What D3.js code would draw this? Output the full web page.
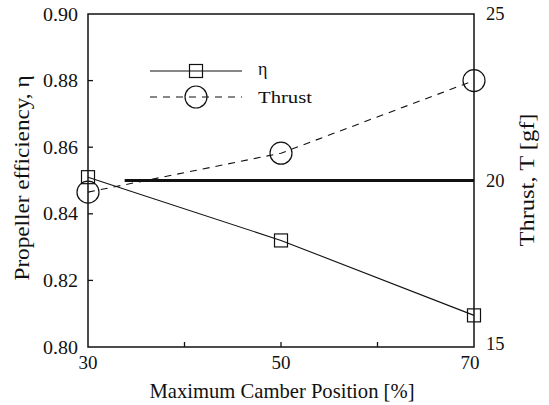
<!DOCTYPE html>
<html><head><meta charset="utf-8">
<script src="https://cdn.jsdelivr.net/npm/d3@7"></script>
<style>body{margin:0;background:#fff}svg{display:block}</style>
</head><body><svg id="c" width="549" height="405" font-family="Liberation Serif, Times New Roman, DejaVu Serif, serif"></svg>
<script>
const camber = [30, 50, 70];
const eta = [0.851, 0.832, 0.8095];
const thrust = [19.65, 20.82, 23.0];
const refThrust = 20;
const xTicks = [30, 40, 50, 60, 70];
const xTickLabels = [30, 50, 70];
const etaTicks = [0.80, 0.82, 0.84, 0.86, 0.88, 0.90];
const thrustTicks = [15, 20, 25];

const svg = d3.select("#c");
const L = 88, R = 474, T = 14, B = 347;
const x = d3.scaleLinear().domain([30, 70]).range([L, R]);
const yL = d3.scaleLinear().domain([0.80, 0.90]).range([B, T]);
const yR = d3.scaleLinear().domain([15, 25]).range([B, T]);
const ink = "#111";

svg.append("g").selectAll("line").data(xTicks.slice(1, -1)).join("line")
  .attr("x1", d => x(d)).attr("x2", d => x(d)).attr("y1", B).attr("y2", B - 5)
  .attr("stroke", ink).attr("stroke-width", 1.3);
svg.append("g").selectAll("line").data(etaTicks.slice(1, -1)).join("line")
  .attr("x1", L).attr("x2", L + 5).attr("y1", d => yL(d)).attr("y2", d => yL(d))
  .attr("stroke", ink).attr("stroke-width", 1.3);
svg.append("g").selectAll("line").data(thrustTicks.slice(1, -1)).join("line")
  .attr("x1", R).attr("x2", R - 5).attr("y1", d => yR(d)).attr("y2", d => yR(d))
  .attr("stroke", ink).attr("stroke-width", 1.3);

svg.append("rect").attr("x", L).attr("y", T).attr("width", R - L).attr("height", B - T)
  .attr("fill", "none").attr("stroke", ink).attr("stroke-width", 1.5);

svg.append("g").selectAll("text").data(etaTicks).join("text")
  .attr("x", L - 10).attr("y", d => yL(d)).attr("dy", "0.35em").attr("text-anchor", "end")
  .attr("font-size", 19).attr("textLength", 35).attr("lengthAdjust", "spacingAndGlyphs")
  .attr("fill", ink).text(d => d.toFixed(2));
svg.append("g").selectAll("text").data(xTickLabels).join("text")
  .attr("x", d => x(d) - (d === 70 ? 4 : 0)).attr("y", B + 22).attr("text-anchor", "middle")
  .attr("font-size", 19).attr("fill", ink).text(d => d);
svg.append("g").selectAll("text").data(thrustTicks).join("text")
  .attr("x", R + 12).attr("y", d => yR(d) - (d === 15 ? 3 : 0)).attr("dy", "0.35em").attr("text-anchor", "start")
  .attr("font-size", 18.5).attr("fill", ink).text(d => d);

svg.append("text").attr("x", 282).attr("y", 398).attr("text-anchor", "middle")
  .attr("font-size", 21).attr("textLength", 265).attr("lengthAdjust", "spacingAndGlyphs")
  .attr("fill", ink).text("Maximum Camber Position [%]");
svg.append("text").attr("transform", `translate(29,178) rotate(-90)`).attr("text-anchor", "middle")
  .attr("font-size", 21).attr("textLength", 205).attr("lengthAdjust", "spacingAndGlyphs")
  .attr("fill", ink).text("Propeller efficiency, η");
svg.append("text").attr("transform", `translate(534,180) rotate(-90)`).attr("text-anchor", "middle")
  .attr("font-size", 21).attr("textLength", 133).attr("lengthAdjust", "spacingAndGlyphs")
  .attr("fill", ink).text("Thrust, T [gf]");

svg.append("line").attr("x1", x(33.8)).attr("x2", R).attr("y1", yR(refThrust)).attr("y2", yR(refThrust))
  .attr("stroke", ink).attr("stroke-width", 3.2);

const etaPts = camber.map((c, i) => [x(c), yL(eta[i])]);
svg.append("path").attr("d", d3.line()(etaPts)).attr("fill", "none").attr("stroke", ink).attr("stroke-width", 1.1);
const sq = 13;
svg.append("g").selectAll("rect").data(etaPts).join("rect")
  .attr("x", d => d[0] - sq / 2).attr("y", d => d[1] - sq / 2).attr("width", sq).attr("height", sq)
  .attr("fill", "none").attr("stroke", ink).attr("stroke-width", 1.2);

const thPts = camber.map((c, i) => [x(c), yR(thrust[i])]);
svg.append("path").attr("d", d3.line()(thPts)).attr("fill", "none").attr("stroke", ink)
  .attr("stroke-width", 1.1).attr("stroke-dasharray", "7,6");
svg.append("g").selectAll("circle").data(thPts).join("circle")
  .attr("cx", d => d[0]).attr("cy", d => d[1]).attr("r", 11)
  .attr("fill", "none").attr("stroke", ink).attr("stroke-width", 1.2);

const lg = svg.append("g");
lg.append("line").attr("x1", 150).attr("x2", 242).attr("y1", 71).attr("y2", 71).attr("stroke", ink).attr("stroke-width", 1.1);
lg.append("rect").attr("x", 196 - sq / 2).attr("y", 71 - sq / 2).attr("width", sq).attr("height", sq)
  .attr("fill", "none").attr("stroke", ink).attr("stroke-width", 1.2);
lg.append("text").attr("x", 258).attr("y", 75).attr("font-size", 18).attr("fill", ink).text("η");
lg.append("line").attr("x1", 150).attr("x2", 242).attr("y1", 97).attr("y2", 97).attr("stroke", ink)
  .attr("stroke-width", 1.1).attr("stroke-dasharray", "7,6");
lg.append("circle").attr("cx", 196).attr("cy", 97).attr("r", 11).attr("fill", "none").attr("stroke", ink).attr("stroke-width", 1.2);
lg.append("text").attr("x", 258).attr("y", 103).attr("font-size", 17.5)
  .attr("textLength", 54).attr("lengthAdjust", "spacingAndGlyphs").attr("fill", ink).text("Thrust");
</script></body></html>
